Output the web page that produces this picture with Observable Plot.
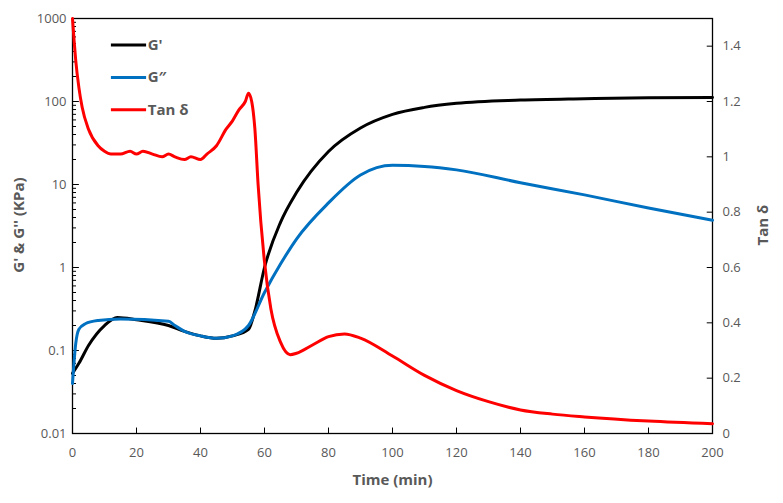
<!DOCTYPE html>
<html><head>
<meta charset="utf-8">
<script src="https://cdn.jsdelivr.net/npm/d3@7"></script>
<script src="https://cdn.jsdelivr.net/npm/@observablehq/plot@0.6"></script>
<style>body{margin:0;background:#fff;font-family:"Open Sans",Arial,sans-serif}</style>
</head><body><div id="chart"></div>
<script>
const gpTime = [0,2,5,10,14,20,30,35,40,45,50,55,57,60,65,70,80,90,100,110,120,140,160,180,200];
const gpVal  = [0.053,0.07,0.115,0.2,0.25,0.235,0.2,0.17,0.15,0.14,0.15,0.18,0.3,1.0,3.5,8,25,48,70,85,95,104,108,111,112];
const gppTime = [0,1,2,4,8,15,30,32,35,40,45,50,55,60,65,70,80,90,100,110,120,140,160,180,200];
const gppVal  = [0.04,0.12,0.18,0.21,0.23,0.24,0.225,0.2,0.17,0.15,0.14,0.15,0.2,0.5,1.1,2.2,6,13,17,16.5,15,10.5,7.5,5.2,3.7];
const tanTime = [0,0.5,1,2,3,5,8,10,12,15,18,20,22,25,28,30,32,35,37,40,42,45,48,50,52,54,55,56,57,58,60,62,65,68,70,75,80,85,90,100,110,120,130,140,150,160,180,200];
const tanVal  = [1.5,1.42,1.35,1.25,1.18,1.1,1.04,1.02,1.01,1.01,1.02,1.01,1.02,1.01,1.0,1.01,1.0,0.99,1.0,0.99,1.01,1.04,1.1,1.13,1.17,1.2,1.23,1.2,1.1,0.9,0.62,0.45,0.33,0.285,0.29,0.32,0.35,0.36,0.345,0.28,0.21,0.155,0.115,0.085,0.07,0.06,0.045,0.035];
const tanTicks = [0,0.2,0.4,0.6,0.8,1,1.2,1.4];
const xTicks = [0,20,40,60,80,100,120,140,160,180,200];
const logTicks = [0.01,0.1,1,10,100,1000];

const toLog = t => Math.pow(10, -2 + t * 5 / 1.5);
const series = [
  ...gpTime.map((t,i)=>({t, v: gpVal[i], s:"G'"})),
  ...gppTime.map((t,i)=>({t, v: gppVal[i], s:"G''"})),
  ...tanTime.map((t,i)=>({t, v: toLog(tanVal[i]), s:"Tan"}))
];
const minor = [];
for (let d=-2; d<3; d++) for (let k=2; k<10; k++) minor.push(k*Math.pow(10,d));
const legend = [{n:"G'",c:"#000",y:0},{n:"G\u2033",c:"#0070C0",y:1},{n:"Tan \u03b4",c:"#FF0000",y:2}];
const gray = "#595959";
const ly = d => Math.pow(10, 2.68 - d.y*0.39);

const chart = Plot.plot({
  width: 783, height: 503,
  marginTop: 18, marginBottom: 70, marginLeft: 72, marginRight: 71,
  style: {fontFamily: "'Open Sans', Arial, sans-serif", fontSize: "13px", color: gray},
  x: {domain: [0,200], axis: null},
  y: {type: "log", domain: [0.01,1000], axis: null},
  marks: [
    // x ticks & labels
    Plot.link(xTicks, {x1: d=>d, x2: d=>d, y1: 0.01, y2: 0.0118, stroke: "#000"}),
    Plot.text(xTicks, {x: d=>d, y: 0.01, dy: 19, text: d=>String(d), fill: gray, fontSize: 13}),
    Plot.text(["Time (min)"], {x: 100, y: 0.01, dy: 47, text: d=>d, fill: gray, fontSize: 15, fontWeight: "bold"}),
    // left log ticks
    Plot.link(logTicks, {x1: 0, x2: 2, y1: d=>d, y2: d=>d, stroke: "#000"}),
    Plot.link(minor, {x1: 0, x2: 1.1, y1: d=>d, y2: d=>d, stroke: "#000"}),
    Plot.text(logTicks, {x: 0, y: d=>d, dx: -6, textAnchor: "end", text: d=>String(d), fill: gray, fontSize: 13}),
    // right tan ticks
    Plot.link(tanTicks, {x1: 198.2, x2: 200, y1: d=>toLog(d), y2: d=>toLog(d), stroke: "#000"}),
    Plot.text(tanTicks, {x: 200, y: d=>toLog(d), dx: 10, textAnchor: "start", text: d=>String(d), fill: gray, fontSize: 13}),
    Plot.frame({stroke: "#000", strokeWidth: 1.3}),
    Plot.line(series, {x: "t", y: "v", z: "s", stroke: d => d.s==="G'" ? "#000" : d.s==="G''" ? "#0070C0" : "#FF0000", strokeWidth: 3, curve: "monotone-x"}),
    Plot.link(legend, {x1: () => 12, x2: () => 23, y1: ly, y2: ly, stroke: d=>d.c, strokeWidth: 3}),
    Plot.text(legend, {x: () => 23.5, y: ly, text: "n", textAnchor: "start", fill: gray, fontWeight: "bold", fontSize: 15}),
  ]
});
const svg = d3.select(chart);
svg.append("text").attr("transform","translate(24,225) rotate(-90)").attr("text-anchor","middle")
  .attr("font-weight","bold").attr("font-size",15).attr("fill",gray).text("G' & G'' (KPa)");
svg.append("text").attr("transform","translate(768,225) rotate(-90)").attr("text-anchor","middle")
  .attr("font-weight","bold").attr("font-size",15).attr("fill",gray).text("Tan \u03b4");
document.getElementById("chart").append(chart);
</script>
</body></html>
